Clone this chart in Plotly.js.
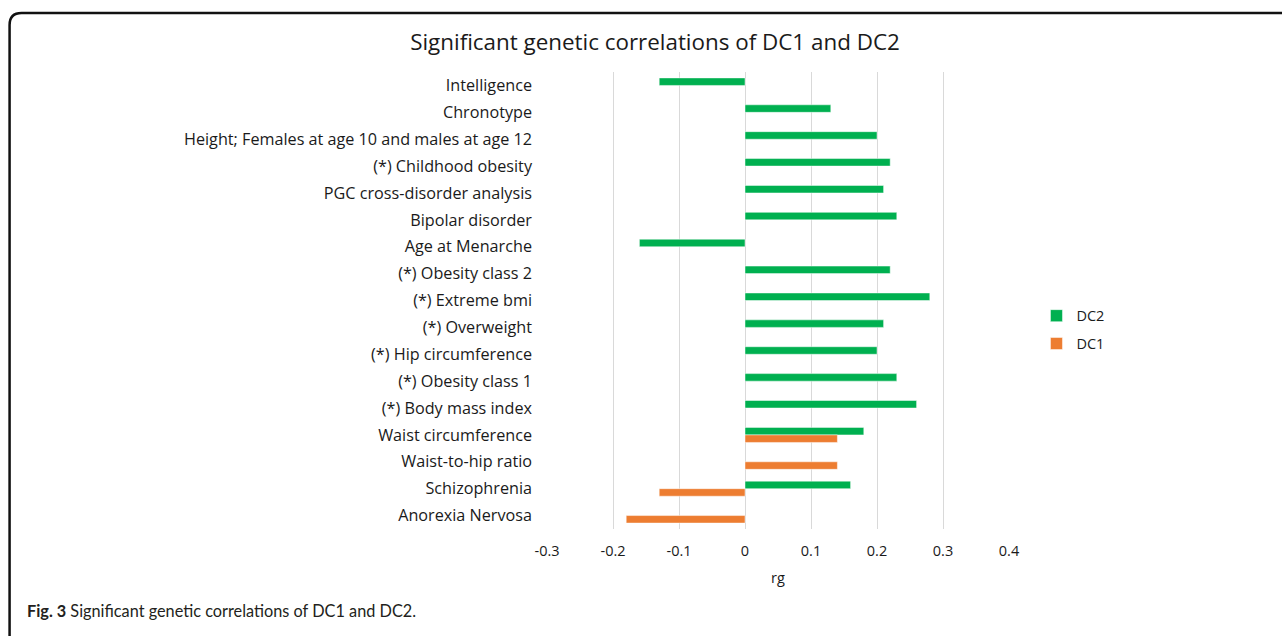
<!DOCTYPE html>
<html>
<head>
<meta charset="utf-8">
<script src="https://cdn.plot.ly/plotly-3.0.1.min.js"></script>
<style>html,body{margin:0;padding:0;background:#fff;}#chart{width:1282px;height:636px;}</style>
</head>
<body>
<div id="chart"></div>
<script>
const categories = [
  "Intelligence",
  "Chronotype",
  "Height; Females at age 10 and males at age 12",
  "(*) Childhood obesity",
  "PGC cross-disorder analysis",
  "Bipolar disorder",
  "Age at Menarche",
  "(*) Obesity class 2",
  "(*) Extreme bmi",
  "(*) Overweight",
  "(*) Hip circumference",
  "(*) Obesity class 1",
  "(*) Body mass index",
  "Waist circumference",
  "Waist-to-hip ratio",
  "Schizophrenia",
  "Anorexia Nervosa"
];
const dc2Values = [-0.13, 0.13, 0.20, 0.22, 0.21, 0.23, -0.16, 0.22, 0.28, 0.21, 0.20, 0.23, 0.26, 0.18, null, 0.16, null];
const dc1Values = [null, null, null, null, null, null, null, null, null, null, null, null, null, 0.14, 0.14, -0.13, -0.18];
const xTickValues = [-0.3, -0.2, -0.1, 0, 0.1, 0.2, 0.3, 0.4];
const xTickLabels = ["-0.3", "-0.2", "-0.1", "0", "0.1", "0.2", "0.3", "0.4"];

const FONT = "'Open Sans', Lato, sans-serif";
const CAPFONT = "Lato, 'Open Sans', sans-serif";
const TXT = "#1a1a1a";
const L = 547, R = 1009.5, T = 72, B = 529.5;
const PW = R - L, PH = B - T;
const px = v => (v - L) / PW;
const py = v => (B - v) / PH;

const traces = [
  {
    type: "bar", orientation: "h", name: "DC2", legendgroup: "g2",
    y: categories, x: dc2Values,
    marker: {color: "#00B050", line: {color: "rgba(255,255,255,0.6)", width: 0.8}},
    hoverinfo: "x+y"
  },
  {
    type: "bar", orientation: "h", name: "DC1", legendgroup: "g1",
    y: categories, x: dc1Values,
    marker: {color: "#ED7D31", line: {color: "rgba(255,255,255,0.6)", width: 0.8}},
    hoverinfo: "x+y"
  }
];

const r = 12;
const x0 = px(9), yTop = py(13), xEnd = px(1295), yEnd = py(645);
const rx = r / PW, ry = r / PH;
const borderPath = `M ${x0} ${yEnd} L ${x0} ${yTop - ry} Q ${x0} ${yTop} ${x0 + rx} ${yTop} L ${xEnd} ${yTop}`;

const layout = {
  width: 1282, height: 636,
  margin: {l: L, r: 1282 - R, t: T, b: 636 - B, pad: 0},
  paper_bgcolor: "#ffffff", plot_bgcolor: "#ffffff",
  font: {family: FONT, size: 14, color: TXT},
  title: {
    text: "Significant genetic correlations of DC1 and DC2",
    font: {family: FONT, size: 22.4, color: TXT},
    x: 655 / 1282, xanchor: "center", xref: "container",
    y: 1 - 42 / 636, yanchor: "middle", yref: "container"
  },
  barmode: "group", bargap: 0.44, bargroupgap: 0,
  xaxis: {
    range: [-0.3, 0.4],
    tickvals: xTickValues, ticktext: xTickLabels,
    showgrid: true, gridcolor: "#D9D9D9", gridwidth: 1,
    zeroline: false, showline: false, ticks: "",
    ticklabelstandoff: 11,
    tickfont: {family: FONT, size: 14.5, color: TXT},
    title: {text: "rg", font: {family: FONT, size: 14.5, color: TXT}, standoff: 14},
    fixedrange: true
  },
  yaxis: {
    type: "category", autorange: "reversed",
    showgrid: false, zeroline: false, showline: false, ticks: "",
    ticklabelstandoff: 14,
    tickfont: {family: FONT, size: 16.2, color: TXT},
    fixedrange: true
  },
  legend: {
    x: px(1037), xanchor: "left", y: py(330), yanchor: "middle",
    font: {family: FONT, size: 14.5, color: TXT},
    bgcolor: "rgba(0,0,0,0)", traceorder: "grouped",
    itemwidth: 30, tracegroupgap: 6
  },
  shapes: [
    {type: "path", xref: "paper", yref: "paper", path: borderPath,
     line: {color: "#111111", width: 2.5}, layer: "above"}
  ],
  annotations: [
    {xref: "paper", yref: "paper", x: px(24), y: py(611), xanchor: "left", yanchor: "middle",
     text: "<b>Fig. 3</b> Significant genetic correlations of DC1 and DC2.",
     showarrow: false, font: {family: CAPFONT, size: 16.3, color: "#231F20"}}
  ]
};

Plotly.newPlot("chart", traces, layout, {displayModeBar: false, staticPlot: true});
</script>
</body>
</html>
